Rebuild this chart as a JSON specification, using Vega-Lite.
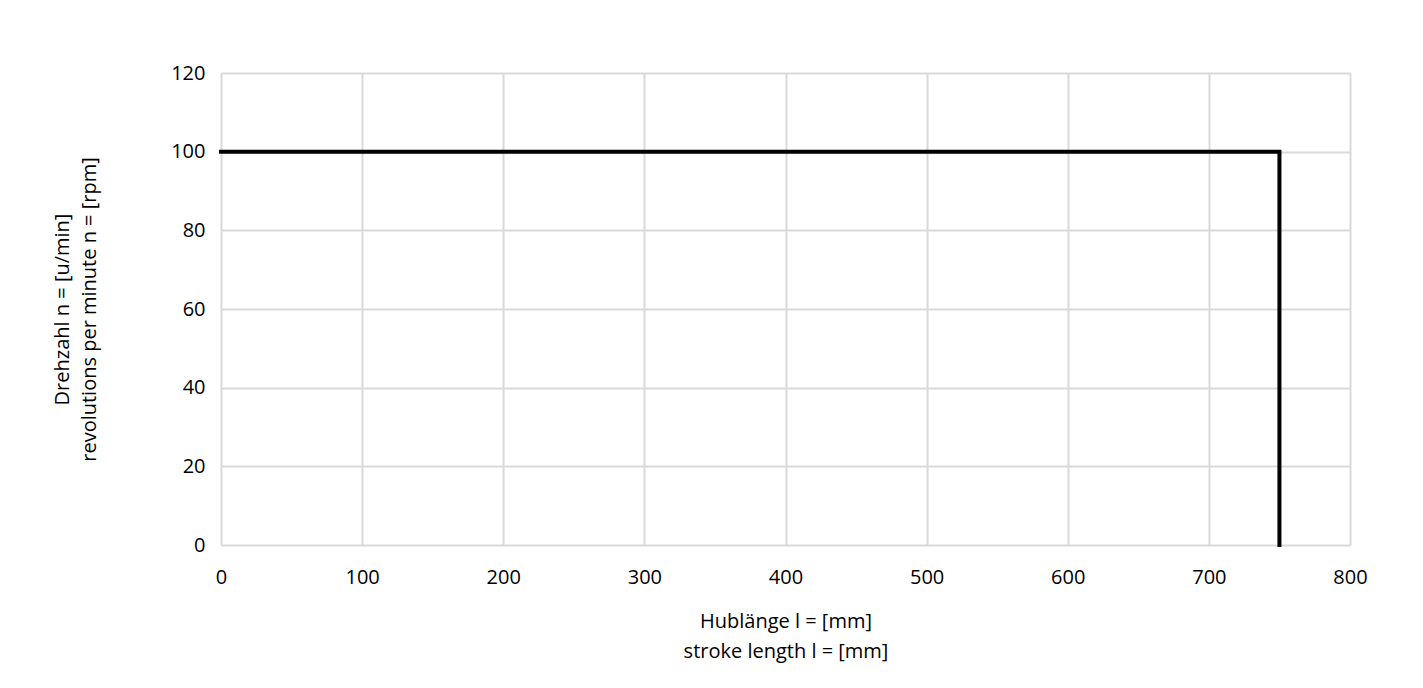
{
  "$schema": "https://vega.github.io/schema/vega-lite/v6.json",
  "width": 1129,
  "height": 472,
  "autosize": {"type": "none"},
  "padding": {"left": 221, "top": 73, "right": 73, "bottom": 143},
  "background": "white",
  "config": {
    "view": {"stroke": null},
    "font": "Open Sans",
    "axis": {
      "labelFont": "Open Sans",
      "titleFont": "Open Sans",
      "labelFontSize": 20,
      "titleFontSize": 20,
      "labelColor": "#000000",
      "titleColor": "#000000",
      "titleFontWeight": "normal",
      "gridColor": "#d9d9d9",
      "gridWidth": 2,
      "domain": false,
      "ticks": false,
      "labelFlush": false,
      "labelBound": false,
      "titleLineHeight": 30
    }
  },
  "data": {
    "values": [
      {"stroke": 0, "rpm": 100, "order": 1},
      {"stroke": 750, "rpm": 100, "order": 2},
      {"stroke": 750, "rpm": 0, "order": 3}
    ]
  },
  "mark": {"type": "line", "color": "#000000", "strokeWidth": 4, "strokeCap": "square", "strokeJoin": "miter"},
  "encoding": {
    "x": {
      "field": "stroke",
      "type": "quantitative",
      "scale": {"domain": [0, 800], "nice": false},
      "axis": {
        "values": [0, 100, 200, 300, 400, 500, 600, 700, 800],
        "labelPadding": 22,
        "titlePadding": 24,
        "title": ["Hublänge l = [mm]", "stroke length l = [mm]"]
      }
    },
    "y": {
      "field": "rpm",
      "type": "quantitative",
      "scale": {"domain": [0, 120], "nice": false},
      "axis": {
        "values": [0, 20, 40, 60, 80, 100, 120],
        "labelPadding": 16,
        "titlePadding": 71,
        "titleLineHeight": 27,
        "title": ["Drehzahl n = [u/min]", "revolutions per minute n = [rpm]"]
      }
    },
    "order": {"field": "order", "type": "quantitative"}
  }
}
